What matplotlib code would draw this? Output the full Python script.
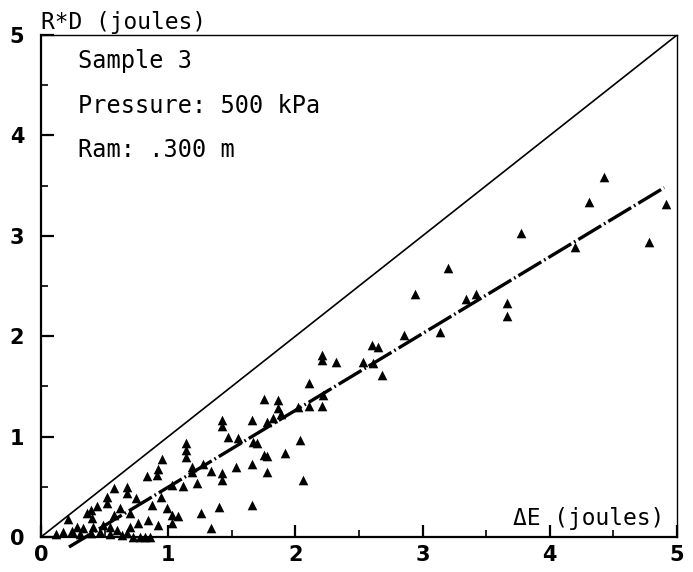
import numpy as np
import matplotlib
matplotlib.use('Agg')
import matplotlib.pyplot as plt
from matplotlib.ticker import MultipleLocator

# measured points: delta E (joules) vs R*D (joules)
delta_e = [
    4.43, 4.31, 4.91, 3.77, 4.78, 4.20, 3.20, 2.94, 3.34, 3.42, 3.66, 3.66, 2.85, 3.14,
    2.60, 2.65, 2.21, 2.21, 2.32, 2.53, 2.61, 2.68, 2.11, 1.75, 1.86, 1.86, 1.89, 2.02,
    2.11, 2.21, 2.22,
    1.42, 1.42, 1.66, 1.78, 1.82, 1.47, 1.55, 1.67, 1.70, 2.04, 1.75, 1.78, 1.92, 1.27,
    1.34, 1.42, 1.42, 1.53, 1.66, 1.78, 2.06,
    1.14, 1.14, 1.14, 1.19, 1.19, 1.03, 1.12, 1.23, 1.40, 1.66, 1.26, 1.08, 1.03, 1.03,
    1.34,
    0.95, 0.83, 0.92, 0.91, 0.57, 0.68, 0.68, 0.75, 0.52, 0.52, 0.62, 0.94, 0.87, 0.99,
    0.44, 0.36, 0.21, 0.17, 0.28, 0.33, 0.41, 0.49, 0.54, 0.60, 0.70, 0.76, 0.84, 0.92,
    0.78, 0.82, 0.31, 0.39, 0.46, 0.54, 0.68, 0.39, 0.40, 0.57, 0.70, 0.12, 0.24, 0.64,
    0.72, 0.86,
]
r_times_d = [
    3.59, 3.34, 3.32, 3.03, 2.94, 2.89, 2.68, 2.42, 2.37, 2.42, 2.33, 2.20, 2.01, 2.04,
    1.91, 1.89, 1.81, 1.76, 1.74, 1.74, 1.73, 1.61, 1.53, 1.37, 1.36, 1.28, 1.23, 1.29,
    1.30, 1.30, 1.41,
    1.17, 1.11, 1.17, 1.15, 1.19, 1.00, 0.99, 0.95, 0.94, 0.97, 0.82, 0.81, 0.84, 0.73,
    0.66, 0.64, 0.57, 0.70, 0.73, 0.65, 0.57,
    0.94, 0.87, 0.80, 0.70, 0.65, 0.52, 0.51, 0.54, 0.30, 0.32, 0.24, 0.21, 0.22, 0.14,
    0.09,
    0.78, 0.61, 0.68, 0.62, 0.49, 0.50, 0.44, 0.39, 0.40, 0.34, 0.29, 0.40, 0.32, 0.29,
    0.31, 0.24, 0.18, 0.05, 0.10, 0.09, 0.10, 0.12, 0.10, 0.07, 0.10, 0.14, 0.17, 0.12,
    0.00, 0.00, 0.03, 0.04, 0.05, 0.03, 0.04, 0.27, 0.19, 0.22, 0.24, 0.03, 0.06, 0.02,
    0.00, 0.00,
]

# fitted line and the 1:1 line
fit_x = [0.22, 4.90]
fit_y = [-0.10, 3.48]
ident = [0, 5]

ticks = [0, 1, 2, 3, 4, 5]
info = ['Sample 3', 'Pressure: 500 kPa', 'Ram: .300 m']

mono = 'DejaVu Sans Mono'

fig = plt.figure(figsize=(6.93, 5.72), dpi=100)
ax = fig.add_axes([41 / 693, 35 / 572, 636 / 693, 502 / 572])

ax.plot(ident, ident, color='black', lw=1.2)
ax.plot(fit_x, fit_y, color='black', lw=2.4, ls=(0, (8, 1, 0.5, 1)),
        clip_on=False, solid_capstyle='butt')
ax.scatter(delta_e, r_times_d, marker='^', s=48, color='black',
           linewidths=0, clip_on=False, zorder=3)

ax.set_xlim(0, 5)
ax.set_ylim(0, 5)
ax.xaxis.set_minor_locator(MultipleLocator(0.5))
ax.yaxis.set_minor_locator(MultipleLocator(0.5))
ax.set_xticks(ticks)
ax.set_yticks(ticks)
ax.set_xticklabels([str(t) for t in ticks])
ax.set_yticklabels([str(t) for t in ticks])
ax.tick_params(which='major', direction='in', length=9, width=1.6,
               labelsize=15)
ax.tick_params(axis='x', which='major', pad=6)
ax.tick_params(axis='y', which='major', pad=12)
ax.tick_params(which='minor', direction='in', length=5, width=1.2)
for lab in ax.get_xticklabels() + ax.get_yticklabels():
    lab.set_fontweight('bold')

for sp in ax.spines.values():
    sp.set_linewidth(1.6)
ax.spines['top'].set_linewidth(1.0)
ax.spines['right'].set_linewidth(1.0)

ax.text(0.0, 1.012, 'R*D (joules)', transform=ax.transAxes, family=mono,
        fontsize=16.5, ha='left', va='baseline')
ax.text(0.98, 0.024, '\u0394E (joules)', transform=ax.transAxes, family=mono,
        fontsize=16.5, ha='right', va='baseline')

for i, line in enumerate(info):
    ax.text(0.058, 0.934 - i * 0.0885, line, transform=ax.transAxes,
            family=mono, fontsize=17, ha='left', va='baseline')

fig.savefig('out.png', dpi=100)
